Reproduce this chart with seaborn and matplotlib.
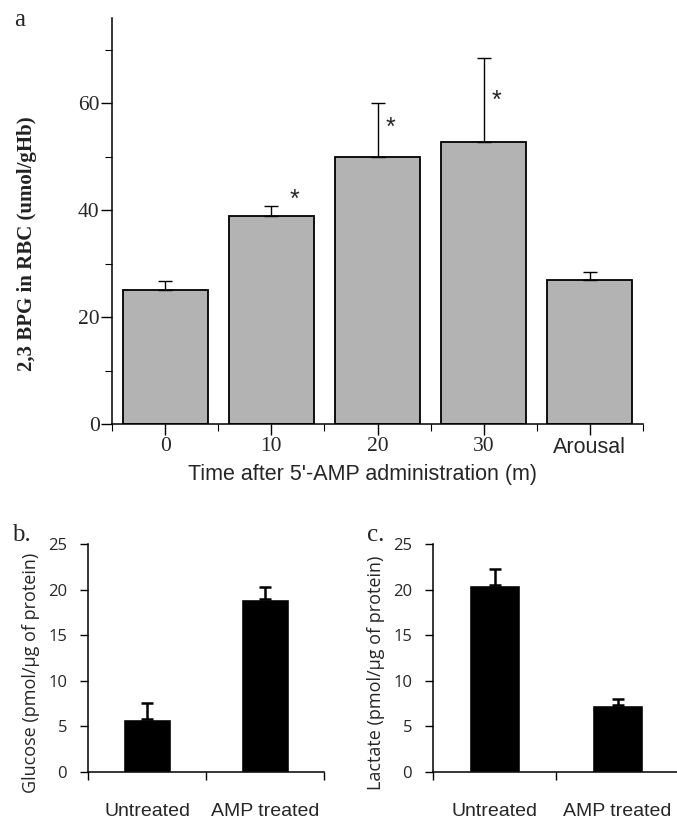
import numpy as np
import pandas as pd
import matplotlib
matplotlib.use("Agg")
import matplotlib.pyplot as plt
import seaborn as sns
from matplotlib.ticker import FixedLocator

# ---- data ----
time_labels = ["0", "10", "20", "30", "Arousal"]
bpg_mean = [25.0, 39.0, 50.0, 52.7, 27.0]
bpg_err = [1.7, 1.8, 10.0, 15.8, 1.5]
bpg_star_y = [None, 42.0, 55.5, 60.5, None]

treat_labels = ["Untreated", "AMP treated"]
glucose_mean = [5.8, 19.0]
glucose_err = [1.8, 1.3]
lactate_mean = [20.5, 7.3]
lactate_err = [1.8, 0.7]

sns.set_theme(style="ticks")
SERIF = ["Liberation Serif", "DejaVu Serif"]
NARROW = ["Liberation Sans Narrow", "Liberation Sans", "DejaVu Sans"]
SANS = ["Open Sans", "Liberation Sans", "DejaVu Sans"]

fig = plt.figure(figsize=(6.77, 8.19), dpi=100)
W, H = 677, 819

def axes_px(x0, x1, ytop, ybot):
    return fig.add_axes([x0 / W, 1 - ybot / H, (x1 - x0) / W, (ybot - ytop) / H])

# ---------------- panel a ----------------
ax = axes_px(112, 643, 18, 424)
df_a = pd.DataFrame({"time": time_labels, "bpg": bpg_mean})
sns.barplot(data=df_a, x="time", y="bpg", color="#b3b3b3", saturation=1,
            width=0.8, edgecolor="black", linewidth=1.3, errorbar=None, ax=ax)
xs = np.arange(len(time_labels))
ax.errorbar(xs, bpg_mean, yerr=[np.zeros(len(bpg_err)), bpg_err], fmt="none",
            ecolor="black", elinewidth=1.0, capsize=5, capthick=1.0, zorder=1)
for i, sy in enumerate(bpg_star_y):
    if sy is not None:
        ax.text(i + (0.22 if i == 1 else 0.12), sy, "*", fontsize=18,
                ha="center", va="center", family=["Liberation Sans", "DejaVu Sans"])
ax.set_xlim(-0.5, 4.5)
ax.set_ylim(0, 76)
ax.yaxis.set_major_locator(FixedLocator([0, 20, 40, 60]))
ax.yaxis.set_minor_locator(FixedLocator([10, 30, 50, 70]))
ax.xaxis.set_minor_locator(FixedLocator([-0.5, 0.5, 1.5, 2.5, 3.5, 4.5]))
ax.tick_params(axis="both", which="major", direction="out", length=8, width=1.0,
               color="black")
ax.tick_params(axis="both", which="minor", direction="out", length=5, width=0.8,
               color="black")
ax.tick_params(axis="y", labelsize=15.5, pad=1)
ax.tick_params(axis="x", pad=1)
for lab in ax.get_yticklabels():
    lab.set_family(SERIF)
ax.set_xticks(xs)
ax.set_xticklabels(time_labels)
for i, lab in enumerate(ax.get_xticklabels()):
    if time_labels[i] == "Arousal":
        lab.set_family(NARROW)
    else:
        lab.set_family(SERIF)
    lab.set_fontsize(15.5)
sns.despine(ax=ax)
for sp in ["left", "bottom"]:
    ax.spines[sp].set_color("black")
    ax.spines[sp].set_linewidth(1.1)
ax.set_xlabel("Time after 5'-AMP administration (m)", fontsize=15.5,
              family=NARROW)
ax.xaxis.set_label_coords((363 - 112) / (643 - 112), -(474 - 424) / (424 - 18))
ax.xaxis.label.set_va("center")
ax.set_ylabel("2,3 BPG in RBC (umol/gHb)", fontsize=15, family=SERIF,
              fontweight="bold", color="#222222")
ax.yaxis.set_label_coords(-(112 - 27) / (643 - 112), (424 - 244) / (424 - 18))
ax.yaxis.label.set_va("center")
fig.text(14 / W, 1 - 20 / H, "a", fontsize=18, family=SERIF, va="center")

# ---------------- panels b, c ----------------
def small_panel(x0, x1, values, errs, ylabel, letter, lx, label_x):
    axs = axes_px(x0, x1, 544, 772)
    d = pd.DataFrame({"group": treat_labels, "val": values})
    sns.barplot(data=d, x="group", y="val", color="black", saturation=1,
                width=0.41, errorbar=None, ax=axs)
    xx = np.arange(len(values))
    axs.errorbar(xx, values, yerr=[np.zeros(len(errs)), errs], fmt="none",
                 ecolor="black", elinewidth=1.8, capsize=4.5, capthick=1.8, zorder=1)
    axs.set_xlim(-0.5, 1.5)
    axs.set_ylim(0, 25)
    axs.yaxis.set_major_locator(FixedLocator([0, 5, 10, 15, 20, 25]))
    axs.set_xticks(xx)
    axs.set_xticklabels(treat_labels, family=NARROW, fontsize=14)
    axs.xaxis.set_minor_locator(FixedLocator([-0.5, 0.5, 1.5]))
    axs.tick_params(axis="x", which="major", length=0, pad=22)
    axs.tick_params(axis="x", which="minor", direction="out", length=6, width=1.0,
                    color="black")
    axs.tick_params(axis="y", direction="out", length=6, width=1.0, color="black",
                    labelsize=12, pad=9)
    for lab in axs.get_yticklabels():
        lab.set_family(SANS)
    sns.despine(ax=axs)
    for sp in ["left", "bottom"]:
        axs.spines[sp].set_color("black")
        axs.spines[sp].set_linewidth(1.1)
    axs.set_xlabel("")
    axs.set_ylabel(ylabel, fontsize=13, family=SANS)
    axs.yaxis.set_label_coords(-(x0 - label_x) / (x1 - x0), (772 - 673) / (772 - 544))
    axs.yaxis.label.set_va("center")
    fig.text(lx / W, 1 - 541 / H, letter, fontsize=18, family=SERIF, va="baseline")
    return axs

small_panel(88, 324, glucose_mean, glucose_err,
            "Glucose (pmol/\u00b5g of protein)", "b.", 12, 31)
small_panel(433, 679, lactate_mean, lactate_err,
            "Lactate (pmol/\u00b5g of protein)", "c.", 367, 376)

fig.savefig("out.png", dpi=100)
